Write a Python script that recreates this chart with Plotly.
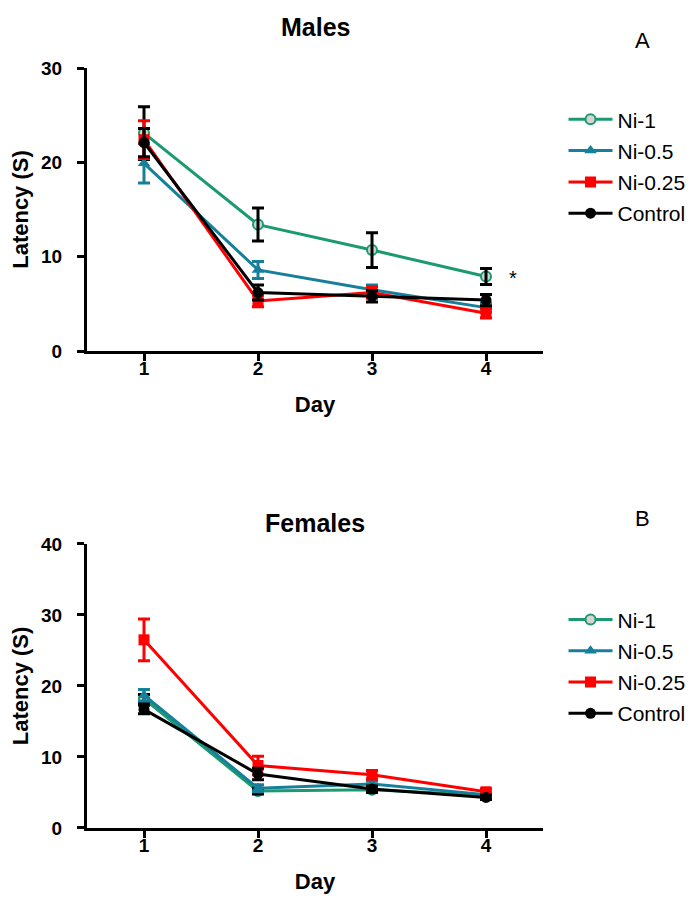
import plotly.graph_objects as go

DAYS = [1, 2, 3, 4]
GROUPS = ["Ni-1", "Ni-0.5", "Ni-0.25", "Control"]

# Males (panel A): mean latency and SEM
MALE_NI1 = [23.1, 13.4, 10.7, 7.9]
MALE_NI1_ERR = [2.8, 1.75, 1.85, 0.85]
MALE_NI05 = [19.9, 8.6, 6.5, 4.6]
MALE_NI05_ERR = [2.1, 0.9, 0.5, 0.5]
MALE_NI025 = [22.4, 5.3, 6.2, 4.0]
MALE_NI025_ERR = [2.0, 0.6, 0.6, 0.5]
MALE_CTRL = [22.1, 6.2, 5.8, 5.4]
MALE_CTRL_ERR = [1.5, 0.8, 0.6, 0.6]

# Females (panel B)
FEM_NI1 = [18.2, 5.2, 5.4, 4.6]
FEM_NI1_ERR = [0.6, 0.4, 0.4, 0.3]
FEM_NI05 = [18.7, 5.6, 6.2, 4.7]
FEM_NI05_ERR = [0.8, 0.5, 0.4, 0.3]
FEM_NI025 = [26.5, 8.8, 7.5, 5.1]
FEM_NI025_ERR = [2.95, 1.3, 0.6, 0.4]
FEM_CTRL = [16.7, 7.6, 5.5, 4.3]
FEM_CTRL_ERR = [0.6, 0.8, 0.4, 0.3]

COLORS = ["#1b9a72", "#16809b", "#ff0000", "#000000"]
ERR_COLORS = ["#000000", "#16809b", "#ff0000", "#000000"]
SYMBOLS = ["circle", "triangle-up", "square", "circle"]
FONT = "Arial, Liberation Sans, sans-serif"

males = [(MALE_NI1, MALE_NI1_ERR), (MALE_NI05, MALE_NI05_ERR),
         (MALE_NI025, MALE_NI025_ERR), (MALE_CTRL, MALE_CTRL_ERR)]
females = [(FEM_NI1, FEM_NI1_ERR), (FEM_NI05, FEM_NI05_ERR),
           (FEM_NI025, FEM_NI025_ERR), (FEM_CTRL, FEM_CTRL_ERR)]

fig = go.Figure()

for panel, (data, xa, ya, leg) in enumerate([(males, "x", "y", "legend"),
                                              (females, "x2", "y2", "legend2")]):
    for i, (name, (vals, errs)) in enumerate(zip(GROUPS, data)):
        marker = dict(symbol=SYMBOLS[i], size=11, color=COLORS[i])
        if i == 0:
            marker = dict(symbol="circle", size=10, color="#d4d4d4",
                          line=dict(color=COLORS[0], width=2))
        err = dict(type="data", array=errs, color=ERR_COLORS[i], thickness=3, width=6)
        fig.add_trace(go.Scatter(
            x=DAYS, y=vals, name=name, mode="lines+markers",
            xaxis=xa, yaxis=ya, legend=leg, legendgroup=f"{leg}{i}",
            line=dict(color=COLORS[i], width=3),
            marker=marker,
            error_y=err if i else None,
            cliponaxis=False,
        ))
        if i == 0:
            # black SEM bars drawn over the Ni-1 markers
            fig.add_trace(go.Scatter(
                x=DAYS, y=vals, mode="markers", showlegend=False,
                xaxis=xa, yaxis=ya, marker=dict(size=1, opacity=0),
                error_y=err, cliponaxis=False, hoverinfo="skip",
            ))

# invisible traces carrying the day tick labels (sit closer to the axis line)
for xa, ya in [("x3", "y"), ("x4", "y2")]:
    fig.add_trace(go.Scatter(x=DAYS, y=[0] * 4, xaxis=xa, yaxis=ya, mode="markers",
                             marker=dict(opacity=0), showlegend=False, hoverinfo="skip"))

tick_font = dict(family=FONT, size=19, color="black", weight="bold")
axis_common = dict(
    showline=True, linecolor="black", linewidth=3, ticks="outside",
    tickwidth=2.5, ticklen=7, tickcolor="black", showgrid=False,
    zeroline=False, tickfont=tick_font, automargin=False,
)
title_font = dict(family=FONT, size=22, color="black")
xfmt = dict(range=[0.5, 4.5], tickvals=DAYS, showticklabels=False,
            title=dict(text="<b>Day</b>", font=title_font, standoff=37), **axis_common)
xlab = dict(range=[0.5, 4.5], tickvals=DAYS, ticks="", showline=False, showgrid=False,
            zeroline=False, tickfont=tick_font, ticklabelstandoff=4, automargin=False)
yfmt = dict(ticklabelstandoff=11,
            title=dict(text="<b>Latency (S)</b>", font=title_font, standoff=18), **axis_common)
leg_common = dict(xanchor="left", yanchor="top", font=dict(size=21, family=FONT),
                  bgcolor="rgba(0,0,0,0)", tracegroupgap=1, itemwidth=44)

fig.update_layout(
    width=695, height=905,
    margin=dict(l=79, r=158, t=60, b=85),
    plot_bgcolor="white", paper_bgcolor="white",
    font=dict(family=FONT, color="black"),
    xaxis=dict(domain=[0, 1], anchor="y", **xfmt),
    yaxis=dict(domain=[0.6276, 1], range=[0, 30], tickvals=[0, 10, 20, 30], anchor="x", **yfmt),
    xaxis2=dict(domain=[0, 1], anchor="y2", **xfmt),
    yaxis2=dict(domain=[0, 0.3737], range=[0, 40], tickvals=[0, 10, 20, 30, 40],
                anchor="x2", **yfmt),
    xaxis3=dict(domain=[0, 1], anchor="y", overlaying="x", **xlab),
    xaxis4=dict(domain=[0, 1], anchor="y2", overlaying="x2", **xlab),
    legend=dict(x=1.045, y=0.959, **leg_common),
    legend2=dict(x=1.045, y=0.301, **leg_common),
    showlegend=True,
)

fig.add_annotation(text="<b>Males</b>", xref="paper", yref="paper", x=0.5, y=1.0,
                   yshift=57, yanchor="top", showarrow=False, font=dict(size=25))
fig.add_annotation(text="<b>Females</b>", xref="paper", yref="paper", x=0.5, y=0.3737,
                   yshift=21, yanchor="middle", showarrow=False, font=dict(size=25))
fig.add_annotation(text="A", xref="paper", yref="paper", x=1.24, y=1.0,
                   yshift=28, yanchor="middle", showarrow=False, font=dict(size=22))
fig.add_annotation(text="B", xref="paper", yref="paper", x=1.24, y=0.3737,
                   yshift=25, yanchor="middle", showarrow=False, font=dict(size=22))
fig.add_annotation(text="*", xref="x", yref="y", x=4.24, y=7.7,
                   showarrow=False, font=dict(size=20))

fig.write_html("out.html")
